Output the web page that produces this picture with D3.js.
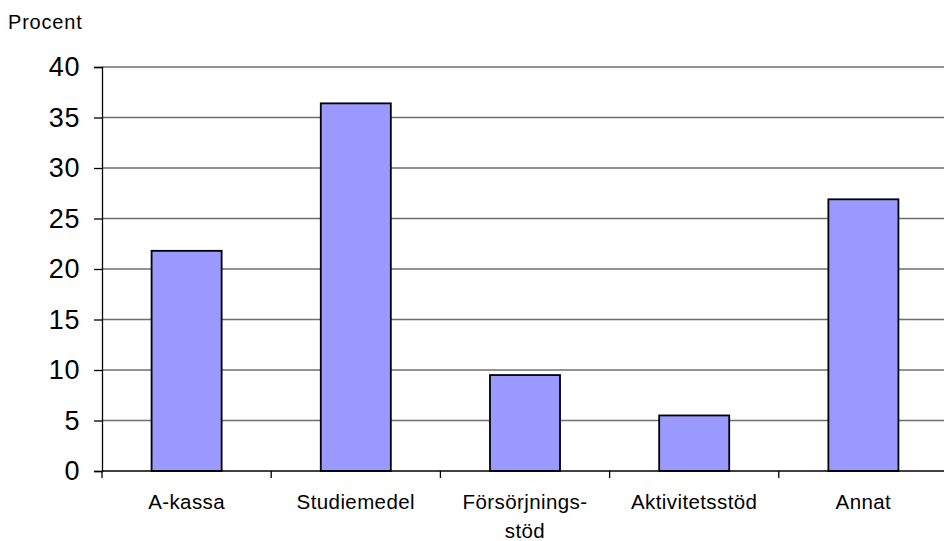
<!DOCTYPE html>
<html>
<head>
<meta charset="utf-8">
<script src="https://cdn.jsdelivr.net/npm/d3@7"></script>
<style>
  html, body { margin: 0; padding: 0; background: #fff; }
  svg { display: block; font-family: Arial, "Liberation Sans", sans-serif; }
</style>
</head>
<body>
<svg id="chart" width="944" height="541"></svg>
<script>
// Categories (label lines) and their percentages
const categories = ["A-kassa", "Studiemedel", "Försörjningsstöd", "Aktivitetsstöd", "Annat"];
const categoryLines = [["A-kassa"], ["Studiemedel"], ["Försörjnings-", "stöd"], ["Aktivitetsstöd"], ["Annat"]];
const values = [21.8, 36.4, 9.5, 5.5, 26.9];
const yTicks = [0, 5, 10, 15, 20, 25, 30, 35, 40];
const yLabel = "Procent";

const svg = d3.select("#chart");
const plotLeft = 102, plotRight = 948, plotTop = 67, plotBottom = 471;

const x = d3.scaleBand().domain(categories).range([plotLeft, plotRight]).paddingInner(0.586).paddingOuter(0.293);
const band = d3.scaleBand().domain(categories).range([plotLeft, plotRight]);
const y = d3.scaleLinear().domain([0, 40]).range([plotBottom, plotTop]);

// Horizontal gridlines
svg.append("g")
  .selectAll("line")
  .data(yTicks.filter(d => d > 0))
  .join("line")
  .attr("x1", plotLeft).attr("x2", plotRight)
  .attr("y1", d => y(d)).attr("y2", d => y(d))
  .attr("stroke", "#6e6e6e").attr("stroke-width", 1.3);

// Bars
svg.append("g")
  .selectAll("rect")
  .data(values)
  .join("rect")
  .attr("x", (d, i) => x(categories[i]))
  .attr("y", d => y(d))
  .attr("width", x.bandwidth())
  .attr("height", d => y(0) - y(d))
  .attr("fill", "#9999ff")
  .attr("stroke", "#000").attr("stroke-width", 1.8);

// Y axis
const yAxis = svg.append("g")
  .attr("transform", `translate(${plotLeft},0)`)
  .call(d3.axisLeft(y).tickValues(yTicks).tickSize(8).tickPadding(14));
yAxis.select(".domain").attr("stroke", "#000").attr("stroke-width", 1.3);
yAxis.selectAll(".tick line").attr("stroke", "#000").attr("stroke-width", 1.3);
yAxis.selectAll(".tick text")
  .attr("font-size", 27)
  .attr("letter-spacing", 0.6)
  .attr("fill", "#000")
  .attr("font-family", "Arial, 'Liberation Sans', sans-serif");

// X axis baseline with ticks at band boundaries
const xAxis = svg.append("g").attr("transform", `translate(0,${plotBottom})`);
xAxis.append("line").attr("x1", plotLeft).attr("x2", plotRight).attr("y1", 0).attr("y2", 0)
  .attr("stroke", "#000").attr("stroke-width", 1.5);
xAxis.selectAll("line.tick")
  .data(categories)
  .join("line")
  .attr("class", "tick")
  .attr("x1", d => band(d)).attr("x2", d => band(d))
  .attr("y1", 0).attr("y2", 7)
  .attr("stroke", "#000").attr("stroke-width", 1.3);

// Category labels
const labels = svg.append("g").selectAll("text")
  .data(categories)
  .join("text")
  .attr("x", d => band(d) + band.bandwidth() / 2)
  .attr("y", 509)
  .attr("text-anchor", "middle")
  .attr("font-size", 20.5)
  .attr("letter-spacing", 0.4)
  .attr("fill", "#000");
labels.each(function(d, i) {
  d3.select(this).selectAll("tspan")
    .data(categoryLines[i])
    .join("tspan")
    .attr("x", band(d) + band.bandwidth() / 2)
    .attr("dy", (t, j) => j === 0 ? 0 : 29)
    .text(t => t);
});

// Unit label
svg.append("text")
  .attr("x", 8).attr("y", 29)
  .attr("font-size", 20)
  .attr("letter-spacing", 0.8)
  .attr("fill", "#000")
  .text(yLabel);
</script>
</body>
</html>
